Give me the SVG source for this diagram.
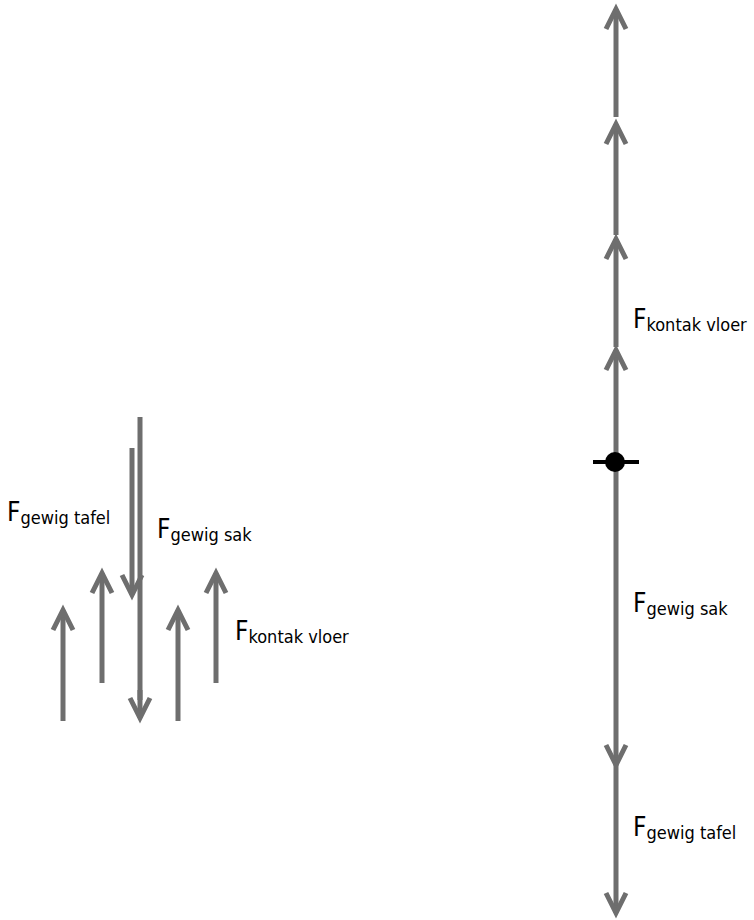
<svg xmlns="http://www.w3.org/2000/svg" width="754" height="920" viewBox="0 0 754 920">
<style>
.f{stroke:#6e6e6e;stroke-width:5;fill:none;marker-end:url(#ah)}
.plain{stroke:#6e6e6e;stroke-width:5;fill:none}
text{font-family:"DejaVu Sans Condensed","DejaVu Sans","Liberation Sans",sans-serif;font-stretch:condensed;font-size:26px;fill:#000}
.sub{font-size:18px}
</style>
<defs>
<marker id="ah" markerUnits="userSpaceOnUse" viewBox="-30 -15 40 30" refX="0" refY="0" markerWidth="40" markerHeight="30" orient="auto" overflow="visible">
<path d="M-20,-10 L0,0 L-20,10" fill="none" stroke="#6e6e6e" stroke-width="5" stroke-linejoin="miter"/>
</marker>
</defs>
<rect width="754" height="920" fill="#fff"/>
<g id="connectors">
<g id="left-forces">
<line class="plain" x1="140" y1="417" x2="140" y2="700"/>
<line class="f" x1="140" y1="690" x2="140" y2="718"/>
<line class="f" x1="132" y1="448" x2="132" y2="595"/>
<line class="f" x1="63" y1="721" x2="63" y2="610"/>
<line class="f" x1="102" y1="683" x2="102" y2="573"/>
<line class="f" x1="178" y1="721" x2="178" y2="610"/>
<line class="f" x1="216" y1="683" x2="216" y2="573"/>
</g>
<g id="right-forces">
<line class="f" x1="616" y1="462" x2="616" y2="350"/>
<line class="f" x1="616" y1="347" x2="616" y2="239"/>
<line class="f" x1="616" y1="235" x2="616" y2="124"/>
<line class="f" x1="616" y1="117" x2="616" y2="9"/>
<line class="f" x1="616" y1="462" x2="616" y2="765"/>
<line class="f" x1="616" y1="765" x2="616" y2="913"/>
</g>
</g>
<g id="point">
<line x1="593" y1="462" x2="639" y2="462" stroke="#000" stroke-width="4"/>
<circle cx="615" cy="462" r="10" fill="#000"/>
</g>
<g id="labels-left">
<text x="7" y="521">F<tspan class="sub" dy="3">gewig tafel</tspan></text>
<text x="157" y="538">F<tspan class="sub" dy="3">gewig sak</tspan></text>
<text x="235" y="640">F<tspan class="sub" dy="3">kontak vloer</tspan></text>
</g>
<g id="labels-right">
<text x="633" y="328">F<tspan class="sub" dy="3">kontak vloer</tspan></text>
<text x="633" y="612">F<tspan class="sub" dy="3">gewig sak</tspan></text>
<text x="633" y="836">F<tspan class="sub" dy="3">gewig tafel</tspan></text>
</g>
</svg>
